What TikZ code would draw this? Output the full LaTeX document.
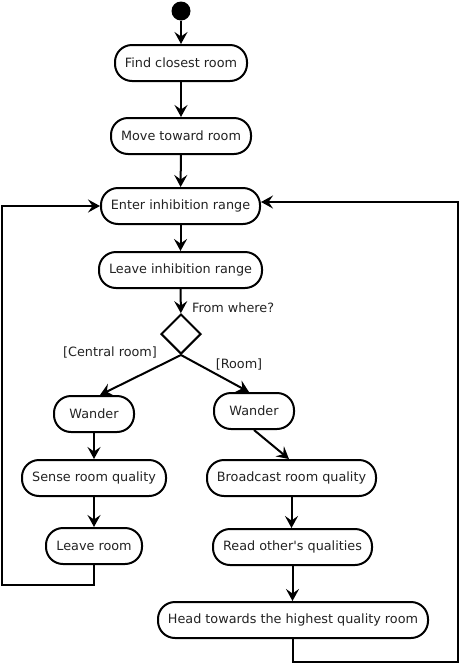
\documentclass[tikz,border=0pt]{standalone}
\usepackage{fontspec}
\setmainfont{DejaVu Sans}
\usetikzlibrary{arrows.meta,shapes.geometric}
\definecolor{txt}{HTML}{222222}
\begin{document}
\begin{tikzpicture}[x=1pt,y=-1pt,
  act/.style={draw,line width=2pt,rectangle,rounded corners=17pt,minimum height=36pt,inner sep=0pt,font=\fontsize{12.8}{14}\selectfont,text=txt},
  lbl/.style={inner sep=0pt,font=\fontsize{12.8}{14}\selectfont,text=txt},
  arr/.style={line width=2pt,-{Stealth[length=12pt,width=13pt,inset=4.5pt]}},
  loopline/.style={line width=2pt,-{Stealth[length=12pt,width=13pt,inset=4.5pt]}},
  dec/.style={draw,line width=2pt,diamond,minimum width=40pt,minimum height=40pt,inner sep=0pt,aspect=1}
]
\useasboundingbox (0,0) rectangle (461,665);
\node[fill=black,circle,minimum size=19pt,inner sep=0pt] (start) at (181,11) {};
\node[act,minimum width=132pt] (find) at (181,63) {Find closest room};
\node[act,minimum width=140pt] (move) at (181,136) {Move toward room};
\node[act,minimum width=159pt] (enter) at (180.5,206) {Enter inhibition range};
\node[act,minimum width=163pt] (leave) at (180.5,270) {Leave inhibition range};
\node[dec] (dec) at (181,334) {};
\node[lbl,anchor=west] (fw) at (192,308) {From where?};
\node[lbl] (cr) at (110,352) {[Central room]};
\node[lbl] (rm) at (239,364) {[Room]};
\node[act,minimum width=80pt] (wl) at (94,414) {Wander};
\node[act,minimum width=80pt] (wr) at (254,411) {Wander};
\node[act,minimum width=144pt] (sense) at (94,478) {Sense room quality};
\node[act,minimum width=96pt] (lroom) at (94,546) {Leave room};
\node[act,minimum width=169pt] (bc) at (291.5,478) {Broadcast room quality};
\node[act,minimum width=159pt] (read) at (292.5,547) {Read other\textquotesingle s qualities};
\node[act,minimum width=270pt] (head) at (293,620) {Head towards the highest quality room};
\coordinate (l1) at (2,585);
\coordinate (r1) at (458,662);

\draw[arr] (start) -- (find);
\draw[arr] (find) -- (move);
\draw[arr] (move) -- (enter);
\draw[arr] (enter) -- (leave);
\draw[arr] (leave) -- (dec);
\draw[arr] (dec.south) -- ([xshift=6pt]wl.north);
\draw[arr] (dec.south) -- ([xshift=-5pt]wr.north);
\draw[arr] (wl) -- (sense);
\draw[arr] (sense) -- (lroom);
\draw[arr] (wr.south) -- ([xshift=-2.5pt]bc.north);
\draw[arr] (bc.south) -- (bc.south |- read.north);
\draw[arr] (read.south) -- (read.south |- head.north);
\draw[loopline] (lroom.south) |- (l1) |- (enter.west);
\draw[loopline] (head.south) |- (r1) |- ([yshift=4pt]enter.east);
\end{tikzpicture}
\end{document}
